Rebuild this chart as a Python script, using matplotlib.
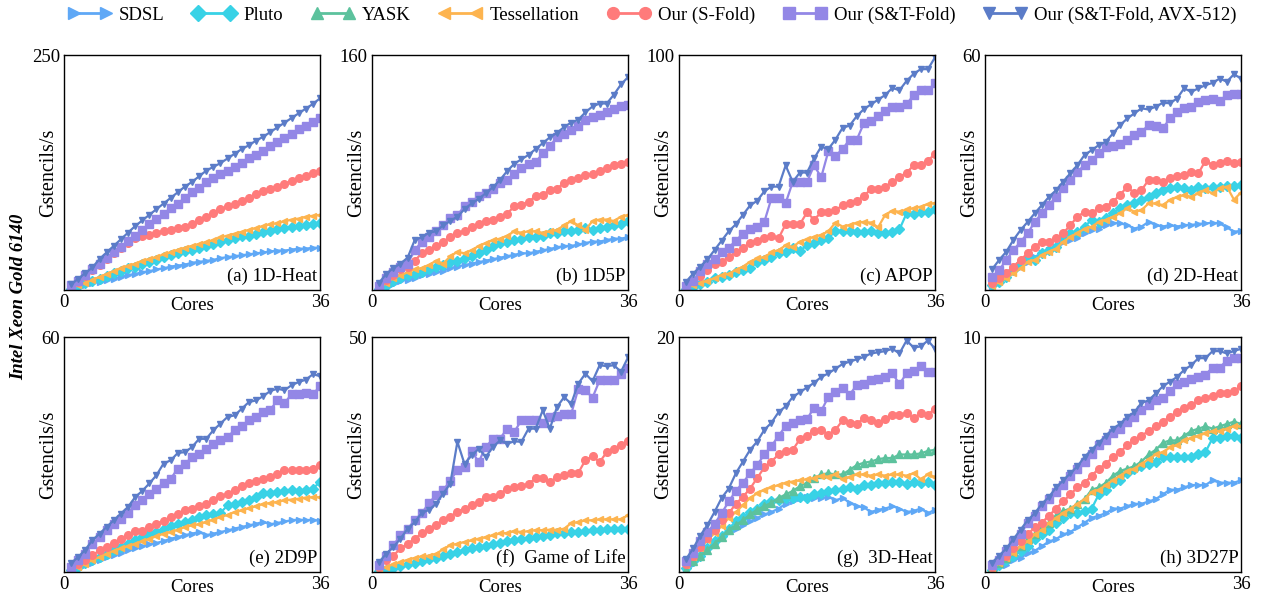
import matplotlib.pyplot as plt
from matplotlib.lines import Line2D
import numpy as np

plt.rcParams['font.family'] = 'Liberation Serif'
plt.rcParams['font.size'] = 13.5

cores = np.arange(1, 37)

# (a) 1D-Heat
heat1d_sdsl = [1, 3, 5, 7, 9, 11, 12, 14, 16, 17, 19, 20, 22, 23, 25, 26, 27, 29, 30, 31, 32, 34, 35, 36, 37, 38, 39, 40, 41, 42, 42, 43, 44, 44, 45, 45]
heat1d_pluto = [1, 4, 7, 10, 12, 15, 18, 20, 23, 25, 28, 30, 32, 35, 37, 39, 41, 43, 45, 47, 49, 51, 53, 55, 57, 58, 60, 62, 63, 65, 66, 67, 68, 69, 70, 71]
heat1d_tess = [2, 5, 8, 11, 14, 17, 20, 23, 26, 28, 31, 33, 35, 38, 40, 43, 45, 47, 49, 51, 53, 56, 58, 60, 62, 64, 66, 68, 70, 71, 73, 75, 76, 78, 79, 80]
heat1d_sfold = [4, 9, 15, 21, 27, 33, 39, 45, 50, 55, 57, 59, 61, 63, 64, 66, 67, 70, 74, 78, 82, 86, 89, 92, 95, 98, 102, 105, 107, 110, 113, 116, 119, 121, 124, 127]
heat1d_stfold = [5, 10, 16, 22, 28, 34, 40, 46, 52, 58, 64, 70, 76, 81, 87, 92, 98, 104, 109, 115, 119, 123, 127, 131, 135, 140, 144, 148, 153, 158, 162, 166, 171, 175, 179, 183]
heat1d_avx = [6, 12, 18, 24, 33, 40, 47, 54, 61, 68, 74, 80, 86, 92, 98, 104, 110, 115, 121, 127, 131, 135, 140, 145, 150, 154, 159, 163, 168, 173, 178, 183, 188, 193, 198, 204]

# (b) 1D5P
p1d5_sdsl = [2, 3, 4, 6, 7, 8, 10, 11, 12, 13, 15, 16, 17, 18, 19, 20, 21, 22, 23, 24, 25, 25, 26, 27, 28, 29, 30, 30, 31, 32, 33, 33, 34, 35, 35, 36]
p1d5_pluto = [1, 3, 6, 8, 10, 11, 12, 14, 16, 17, 19, 20, 22, 23, 25, 27, 30, 32, 33, 34, 35, 36, 36, 37, 39, 39, 40, 40, 41, 42, 41, 42, 43, 44, 45, 47]
p1d5_tess = [1, 5, 8, 10, 12, 14, 15, 17, 20, 18, 23, 26, 25, 27, 30, 32, 34, 35, 37, 40, 39, 40, 40, 39, 40, 41, 44, 47, 44, 41, 47, 48, 48, 47, 50, 51]
p1d5_sfold = [2, 7, 10, 14, 16, 20, 25, 27, 30, 33, 36, 39, 40, 43, 45, 47, 48, 50, 52, 57, 58, 60, 64, 65, 68, 69, 73, 75, 76, 78, 79, 81, 83, 85, 86, 87]
p1d5_stfold = [3, 8, 12, 16, 18, 27, 33, 36, 40, 44, 49, 51, 57, 60, 64, 66, 69, 73, 75, 79, 83, 86, 87, 93, 98, 104, 106, 109, 112, 116, 118, 119, 121, 123, 125, 126]
p1d5_avx = [5, 11, 15, 18, 22, 34, 36, 39, 40, 44, 47, 50, 55, 59, 62, 66, 70, 75, 81, 86, 89, 92, 96, 100, 104, 107, 111, 114, 116, 121, 125, 127, 127, 133, 140, 145]

# (c) APOP
apop_pluto = [0.3, 1.4, 2.4, 3.5, 5, 5.7, 6.4, 7.8, 8.5, 9.2, 12, 12.8, 14, 15.6, 16, 17.7, 16.7, 19, 20, 21.3, 22, 25.2, 25.2, 25.2, 24.8, 24.8, 25.2, 24.4, 24.4, 24.8, 25.8, 32.6, 32.3, 33.3, 33.3, 34.3]
apop_tess = [0.7, 2, 3, 4, 5, 6.4, 7, 8.5, 10, 12, 13.5, 14, 16, 17, 19, 18.4, 20.6, 21.6, 22.7, 23.4, 25, 28.7, 27, 27.7, 28.7, 29, 28.7, 26.7, 32, 33.8, 33.3, 34.3, 34.8, 35.5, 36.6, 37]
apop_sfold = [1.5, 4, 6, 8.5, 11, 12, 14, 16, 18, 20, 21, 22, 23, 22, 28, 28, 28, 33, 30, 33, 33, 34, 36, 37, 38, 40, 43, 43, 44, 46, 48, 50, 53, 53, 55, 58]
apop_stfold = [1.5, 4, 8, 11, 13, 16, 18, 21, 24, 26, 27, 29, 39, 39, 37, 46, 46, 46, 53, 48, 59, 57, 60, 64, 64, 71, 72, 74, 76, 78, 78, 79, 83, 85, 85, 88]
apop_avx = [3.5, 7, 10, 13, 17, 21, 25, 28, 32, 36, 38, 42, 44, 44, 53, 46, 50, 50, 56, 61, 60, 64, 69, 70, 74, 77, 79, 81, 83, 86, 85, 89, 92, 94, 94, 99]

# (d) 2D-Heat
heat2d_sdsl = [0.9, 2.1, 3.4, 4.7, 6, 7.2, 8.5, 9.4, 10.2, 11.1, 12.3, 12.8, 13.2, 14.5, 15.3, 15.7, 16.6, 17.2, 17, 16.6, 15.7, 16.2, 17.4, 16.6, 16.2, 16.6, 16.2, 16.6, 16.6, 16.9, 17, 17.2, 17, 16, 14.9, 15.1]
heat2d_pluto = [1.3, 2.1, 3.4, 5.1, 6.8, 8.1, 7.7, 9.4, 10.2, 11.1, 13.2, 14.5, 14.9, 16.2, 17.9, 17.4, 18.3, 19.6, 20.9, 21.7, 22.1, 23.1, 23.8, 24.7, 25.5, 26, 26.4, 26, 25.5, 26.4, 26, 26.4, 26.4, 26.6, 26.6, 26.8]
heat2d_tess = [0.9, 2.1, 3, 4.3, 5.5, 7.2, 7.7, 8.9, 9.8, 10.6, 12.3, 13.6, 14.5, 15.7, 16.2, 17.4, 17.9, 18.7, 19.6, 20.9, 20, 20.4, 22.1, 22.1, 21.7, 23, 23.7, 24.3, 23.8, 24.7, 25.5, 24.7, 26, 26.4, 23.1, 24.9]
heat2d_sfold = [1.7, 3, 4.3, 6, 7.7, 9.4, 11.1, 12.3, 12.3, 13.2, 14.5, 16.6, 18.7, 20, 19.6, 20.9, 21.3, 22.6, 24.3, 26.4, 24.7, 25.5, 28.1, 28.1, 27.7, 28.5, 29.1, 29.4, 30.2, 29.8, 33, 31.9, 32.5, 33, 32.5, 32.8]
heat2d_stfold = [3.2, 5.1, 7.7, 10.2, 12.3, 14.5, 17.4, 19.6, 21.7, 23.8, 26, 28.1, 30.2, 31.9, 33.2, 34.9, 36.6, 36.8, 37.4, 38.3, 39.6, 40.4, 42.1, 41.9, 41.3, 43.8, 45.5, 46.4, 46.8, 48.1, 48.5, 48.7, 48.3, 49.8, 50, 50]
heat2d_avx = [5.3, 7.7, 9.8, 12.8, 15.3, 17.4, 19.6, 21.7, 23.8, 25.5, 27.7, 29.8, 31.9, 34.5, 35.7, 37, 37.9, 40, 42.1, 43.8, 45.1, 46.4, 46.1, 46.8, 47.8, 47.7, 48.9, 51.5, 50.6, 51.5, 52.3, 52.9, 54, 53.2, 55.1, 54]

# (e) 2D9P
p2d9_sdsl = [0.4, 1.1, 1.7, 2.3, 3, 3.7, 4.3, 4.9, 5.5, 6, 6.6, 7.1, 7.4, 7.9, 8.5, 8.9, 9.4, 9.8, 10.2, 9.4, 9.8, 10.2, 10.6, 11.1, 11.5, 11.9, 12.3, 12.8, 12.2, 12.5, 12.9, 13.2, 13.4, 13.2, 13.4, 13]
p2d9_pluto = [0.6, 1.4, 2.3, 3, 3.8, 4.7, 5.5, 6.4, 7.2, 8.1, 8.9, 9.8, 10.2, 11.1, 11.7, 12.3, 12.8, 13.4, 14, 14.5, 14.7, 15.1, 17, 17.4, 17.9, 18.3, 19.1, 20.2, 20.2, 20.4, 20.7, 20.9, 20.7, 20.9, 21.3, 23]
p2d9_tess = [0.6, 1.3, 2.1, 3.1, 3.8, 4.7, 5.4, 6, 6.6, 7.2, 7.8, 8.5, 9.1, 9.8, 10.2, 10.8, 11.5, 11.9, 12.2, 12.8, 13.4, 14, 14.6, 15.3, 15.7, 16.3, 16.8, 17.4, 17.6, 17.9, 18.3, 18.5, 18.7, 19, 19.1, 19.1]
p2d9_sfold = [0.9, 2.1, 3.1, 4.3, 5.5, 6.4, 7.4, 8.5, 9.4, 10.5, 10.5, 11.5, 12.3, 13, 14, 14.9, 15.7, 16.2, 16.8, 17.4, 18.3, 19.3, 20, 20.9, 21.9, 22.6, 23.2, 23.8, 24.3, 25.1, 26, 26, 26, 26.1, 26.4, 27.2]
p2d9_stfold = [1.3, 3, 4.7, 7.1, 8.9, 10.6, 12.3, 13.6, 15.1, 17, 18.3, 20, 21.3, 22.7, 23.8, 26.4, 27.5, 29.4, 30.2, 31.5, 32.8, 33.8, 34.5, 36.2, 37.4, 38.7, 39.6, 40.9, 41.4, 43.8, 43.1, 45.4, 45.5, 45.7, 45.4, 47.4]
p2d9_avx = [2.3, 3.8, 5.7, 8.1, 9.8, 11.5, 13.2, 14.9, 16.6, 19.1, 20.7, 22.6, 24.7, 27.7, 28.5, 30.4, 30.6, 31.9, 34, 34, 36.2, 37.9, 39.6, 40, 41.7, 43.4, 43.8, 44.9, 46.2, 46.8, 46.4, 47.7, 48.5, 49.1, 50.5, 50]

# (f) Game of Life
life_pluto = [0.2, 0.5, 0.9, 1.3, 1.6, 2, 2.3, 2.7, 3, 3.5, 3.9, 4.3, 4.6, 5, 5.3, 5.6, 5.9, 6.2, 6.5, 6.7, 7, 7.3, 7.5, 7.7, 7.9, 8.2, 8.3, 8.5, 8.6, 8.7, 8.9, 9, 9.1, 9.1, 9.2, 9.2]
life_tess = [0.5, 1.1, 1.6, 2.1, 2.6, 3, 3.3, 3.5, 3.9, 4.8, 5.7, 6, 6.4, 6.7, 7.1, 7.4, 7.8, 8.2, 8.3, 8.7, 8.5, 8.7, 8.9, 8.9, 9, 9, 9.2, 10.4, 10.6, 11, 11, 11.2, 11.2, 11.2, 11.2, 12.1]
life_sfold = [1.1, 2.5, 3.5, 5, 6, 7.1, 8.2, 9.2, 10.1, 11, 11.8, 12.8, 13.5, 14.2, 14.9, 16, 16, 16.7, 17.7, 18.1, 18.2, 18.8, 19.9, 20.1, 19.1, 20.2, 20.6, 21.1, 21.1, 23.8, 24.6, 23.4, 25.5, 26.2, 27, 27.9]
life_stfold = [1.4, 3.5, 5.7, 7.8, 9.2, 11, 12.5, 14.7, 16.3, 17.4, 19.4, 21.8, 22.3, 25.7, 23.4, 26.7, 28.2, 28.4, 30.5, 29.8, 32.3, 32.3, 32.3, 31.6, 33, 33.2, 33.6, 33.6, 39, 38.7, 37.1, 40.8, 40.8, 40.8, 42.2, 43.3]
life_avx = [2.1, 3.9, 5.3, 7.1, 9.2, 10.6, 12.6, 13.2, 14.5, 16.7, 18.8, 27.7, 23, 24.8, 26.2, 24.5, 26.6, 28, 27.3, 27.8, 27.7, 30.5, 30.5, 34.4, 30.5, 35.1, 37.2, 35.8, 40.1, 42.2, 40.6, 44, 43.8, 44, 42.6, 45.7]

# (g) 3D-Heat
heat3d_sdsl = [0.2, 0.7, 1.3, 1.9, 2.4, 2.9, 3.4, 3.7, 4, 4.3, 4.6, 4.9, 5.1, 5.4, 5.8, 6, 6.3, 6.4, 6.3, 6.3, 6.4, 6.1, 6.3, 5.9, 5.6, 5.5, 5.1, 5.3, 5.4, 5.6, 5.4, 5.1, 5.2, 5.4, 5, 5.3]
heat3d_pluto = [0.3, 0.9, 1.4, 2, 2.6, 3.1, 3.7, 4.3, 4.7, 5.1, 5.4, 5.8, 6, 6.1, 6.3, 6.3, 6.4, 6.3, 6.6, 6.7, 6.9, 7, 7.1, 7.2, 7.1, 7.4, 7.4, 7.6, 7.6, 7.7, 7.7, 7.5, 7.7, 7.6, 7.7, 7.4]
heat3d_yask = [0.2, 0.9, 1.4, 1.9, 2.4, 3, 3.6, 4, 4.4, 4.9, 5.3, 5.6, 5.9, 6.3, 6.6, 6.9, 7.3, 7.6, 8, 8.3, 8.4, 8.3, 8.3, 8.7, 9.1, 9.3, 9.4, 9.6, 9.7, 9.7, 10, 10, 10, 10.1, 10.3, 10.4]
heat3d_tess = [0.6, 1.3, 2, 2.7, 3.3, 3.9, 4.6, 5.1, 5.7, 6.3, 6.7, 7, 7.2, 7.4, 7.6, 7.7, 7.8, 7.9, 8, 8.2, 8.1, 8.3, 7.9, 8.1, 8.3, 8.3, 8.2, 8.3, 8.2, 8.3, 8.3, 8.2, 8.4, 7.9, 8.3, 8.1]
heat3d_sfold = [0.7, 1.4, 2.1, 2.9, 3.6, 4.4, 5, 5.8, 6.4, 7.1, 8, 8.9, 9.4, 10, 10.3, 10.4, 11.3, 11.6, 12, 12.1, 11.7, 12.1, 12.9, 12.7, 12.6, 13.1, 12.9, 12.7, 13, 13.4, 13.4, 13.5, 13.1, 13.5, 13.4, 13.9]
heat3d_stfold = [0.9, 1.6, 2.6, 3.4, 4.1, 5, 6, 6.9, 7.6, 8.4, 9.1, 10, 10.7, 11.6, 12.4, 12.7, 12.9, 13, 14, 13.7, 14.9, 15.3, 15.7, 15.1, 15.9, 16, 16.3, 16.4, 16.6, 16.9, 16, 16.9, 17.1, 17.5, 17, 17]
heat3d_avx = [1.1, 2, 3.1, 4, 5.1, 6.3, 7.1, 8.4, 9.4, 10.4, 11.1, 12.1, 12.7, 13.6, 14.1, 14.9, 15.3, 15.7, 16.1, 16.6, 16.9, 17.3, 17.7, 17.9, 18.1, 18.3, 18.6, 18.7, 18.8, 19, 18.6, 19.7, 19.1, 19.2, 19.7, 19]

# (h) 3D27P
p3d27_sdsl = [0, 0.2, 0.3, 0.5, 0.6, 0.8, 0.9, 1.1, 1.3, 1.4, 1.6, 1.7, 1.9, 2.1, 2.3, 2.4, 2.5, 2.7, 2.7, 2.8, 2.9, 2.9, 3, 3.1, 3.3, 3.5, 3.5, 3.6, 3.7, 3.7, 3.7, 3.9, 3.8, 3.8, 3.8, 3.9]
p3d27_pluto = [0.1, 0.3, 0.5, 0.7, 0.9, 1.1, 1.4, 1.6, 1.8, 2.1, 2.3, 2.5, 2.5, 2.6, 2.7, 3.3, 3.5, 3.8, 3.9, 4.2, 4.4, 4.5, 4.6, 4.7, 4.9, 4.9, 4.9, 4.9, 4.9, 5, 5.1, 5.7, 5.7, 5.8, 5.8, 5.7]
p3d27_yask = [0.2, 0.4, 0.6, 0.9, 1.1, 1.4, 1.6, 1.9, 2.1, 2.4, 2.6, 2.7, 2.9, 3.1, 3.5, 3.6, 3.8, 4.1, 4.3, 4.4, 4.5, 4.7, 5, 5.2, 5.5, 5.6, 5.6, 5.8, 6, 6.1, 6.2, 6.1, 6.2, 6.3, 6.4, 6.3]
p3d27_tess = [0.1, 0.4, 0.6, 0.8, 1.1, 1.3, 1.6, 1.8, 2.1, 2.3, 2.5, 2.7, 2.9, 3.1, 3.4, 3.5, 3.7, 3.9, 4.1, 4.3, 4.4, 4.6, 4.8, 5, 5.1, 5.3, 5.4, 5.6, 5.7, 5.8, 5.9, 6, 6, 6.1, 6.2, 6.2]
p3d27_sfold = [0.2, 0.5, 0.7, 1, 1.3, 1.6, 1.9, 2.1, 2.4, 2.7, 3, 3.3, 3.6, 3.8, 4.1, 4.4, 4.6, 4.9, 5.1, 5.4, 5.6, 5.8, 6, 6.2, 6.4, 6.6, 6.8, 7, 7.1, 7.3, 7.4, 7.5, 7.6, 7.6, 7.7, 7.9]
p3d27_stfold = [0.3, 0.5, 0.9, 1.3, 1.6, 2.1, 2.4, 2.8, 3.1, 3.4, 3.7, 4.1, 4.4, 4.7, 5, 5.4, 5.6, 5.9, 6.1, 6.4, 6.6, 6.9, 7.1, 7.3, 7.4, 7.7, 8, 8.1, 8.2, 8.3, 8.4, 8.7, 8.7, 9, 9.1, 9.1]
p3d27_avx = [0.4, 0.7, 1, 1.4, 1.8, 2.2, 2.5, 2.9, 3.2, 3.6, 3.9, 4.2, 4.5, 4.9, 5.2, 5.5, 5.8, 6.1, 6.3, 6.6, 6.8, 7.2, 7.3, 7.6, 7.9, 8.1, 8.3, 8.6, 8.8, 9.1, 9.1, 9.4, 9.4, 9.3, 9.4, 9.5]

labels = ['SDSL', 'Pluto', 'YASK', 'Tessellation', 'Our (S-Fold)', 'Our (S&T-Fold)', 'Our (S&T-Fold, AVX-512)']
colors = ['#5fa8f6', '#38d2e6', '#5cc29d', '#fdb44f', '#ff7b7b', '#9387e6', '#5b7cc8']
markers = ['>', 'D', '^', '<', 'o', 's', 'v']
msizes = [5, 5, 5.5, 5, 5.5, 5.5, 5]

panels = [
    ('(a) 1D-Heat', 250, [heat1d_sdsl, heat1d_pluto, None, heat1d_tess, heat1d_sfold, heat1d_stfold, heat1d_avx]),
    ('(b) 1D5P', 160, [p1d5_sdsl, p1d5_pluto, None, p1d5_tess, p1d5_sfold, p1d5_stfold, p1d5_avx]),
    ('(c) APOP', 100, [None, apop_pluto, None, apop_tess, apop_sfold, apop_stfold, apop_avx]),
    ('(d) 2D-Heat', 60, [heat2d_sdsl, heat2d_pluto, None, heat2d_tess, heat2d_sfold, heat2d_stfold, heat2d_avx]),
    ('(e) 2D9P', 60, [p2d9_sdsl, p2d9_pluto, None, p2d9_tess, p2d9_sfold, p2d9_stfold, p2d9_avx]),
    ('(f)  Game of Life', 50, [None, life_pluto, None, life_tess, life_sfold, life_stfold, life_avx]),
    ('(g)  3D-Heat', 20, [heat3d_sdsl, heat3d_pluto, heat3d_yask, heat3d_tess, heat3d_sfold, heat3d_stfold, heat3d_avx]),
    ('(h) 3D27P', 10, [p3d27_sdsl, p3d27_pluto, p3d27_yask, p3d27_tess, p3d27_sfold, p3d27_stfold, p3d27_avx]),
]

fig = plt.figure(figsize=(12.62, 5.97), dpi=100)

# axes boxes in figure fractions (taken from the reference pixel layout)
lefts = [0.0507, 0.2948, 0.5380, 0.7805]
bottoms = [0.5142, 0.0419]
w, h = 0.2029, 0.3936

for i, (title, ymax, data) in enumerate(panels):
    ax = fig.add_axes([lefts[i % 4], bottoms[i // 4], w, h])
    for j, vals in enumerate(data):
        if vals is None:
            continue
        ax.plot(cores, vals, color=colors[j], marker=markers[j], markersize=msizes[j],
                linewidth=1.6, label=labels[j])
    ax.set_xlim(0, 36)
    ax.set_ylim(0, ymax)
    ax.set_xticks([0, 36])
    ax.set_yticks([ymax])
    ax.tick_params(length=0, pad=3, labelsize=13.5)
    ax.set_xlabel('Cores', fontsize=13.5)
    ax.xaxis.set_label_coords(0.5, -0.03)
    ax.set_ylabel('Gstencils/s', fontsize=14.5)
    ax.yaxis.set_label_coords(-0.022, 0.5)
    for sp in ax.spines.values():
        sp.set_linewidth(1.0)
    ax.text(0.99, 0.02, title, transform=ax.transAxes, ha='right', va='bottom', fontsize=13.5)

handles = [Line2D([], [], color=colors[j], marker=markers[j], markersize=msizes[j] + 3,
                  linewidth=2) for j in range(7)]
fig.legend(handles, labels, loc='center', bbox_to_anchor=(0.517, 0.975), ncol=7,
           frameon=False, numpoints=2, handlelength=2.3, handletextpad=0.4,
           columnspacing=1.5, fontsize=13.5)

fig.text(0.015, 0.5025, 'Intel Xeon Gold 6140', rotation=90, ha='center', va='center',
         fontsize=13.5, fontweight='bold', style='italic')

fig.savefig('out.png', dpi=100)
